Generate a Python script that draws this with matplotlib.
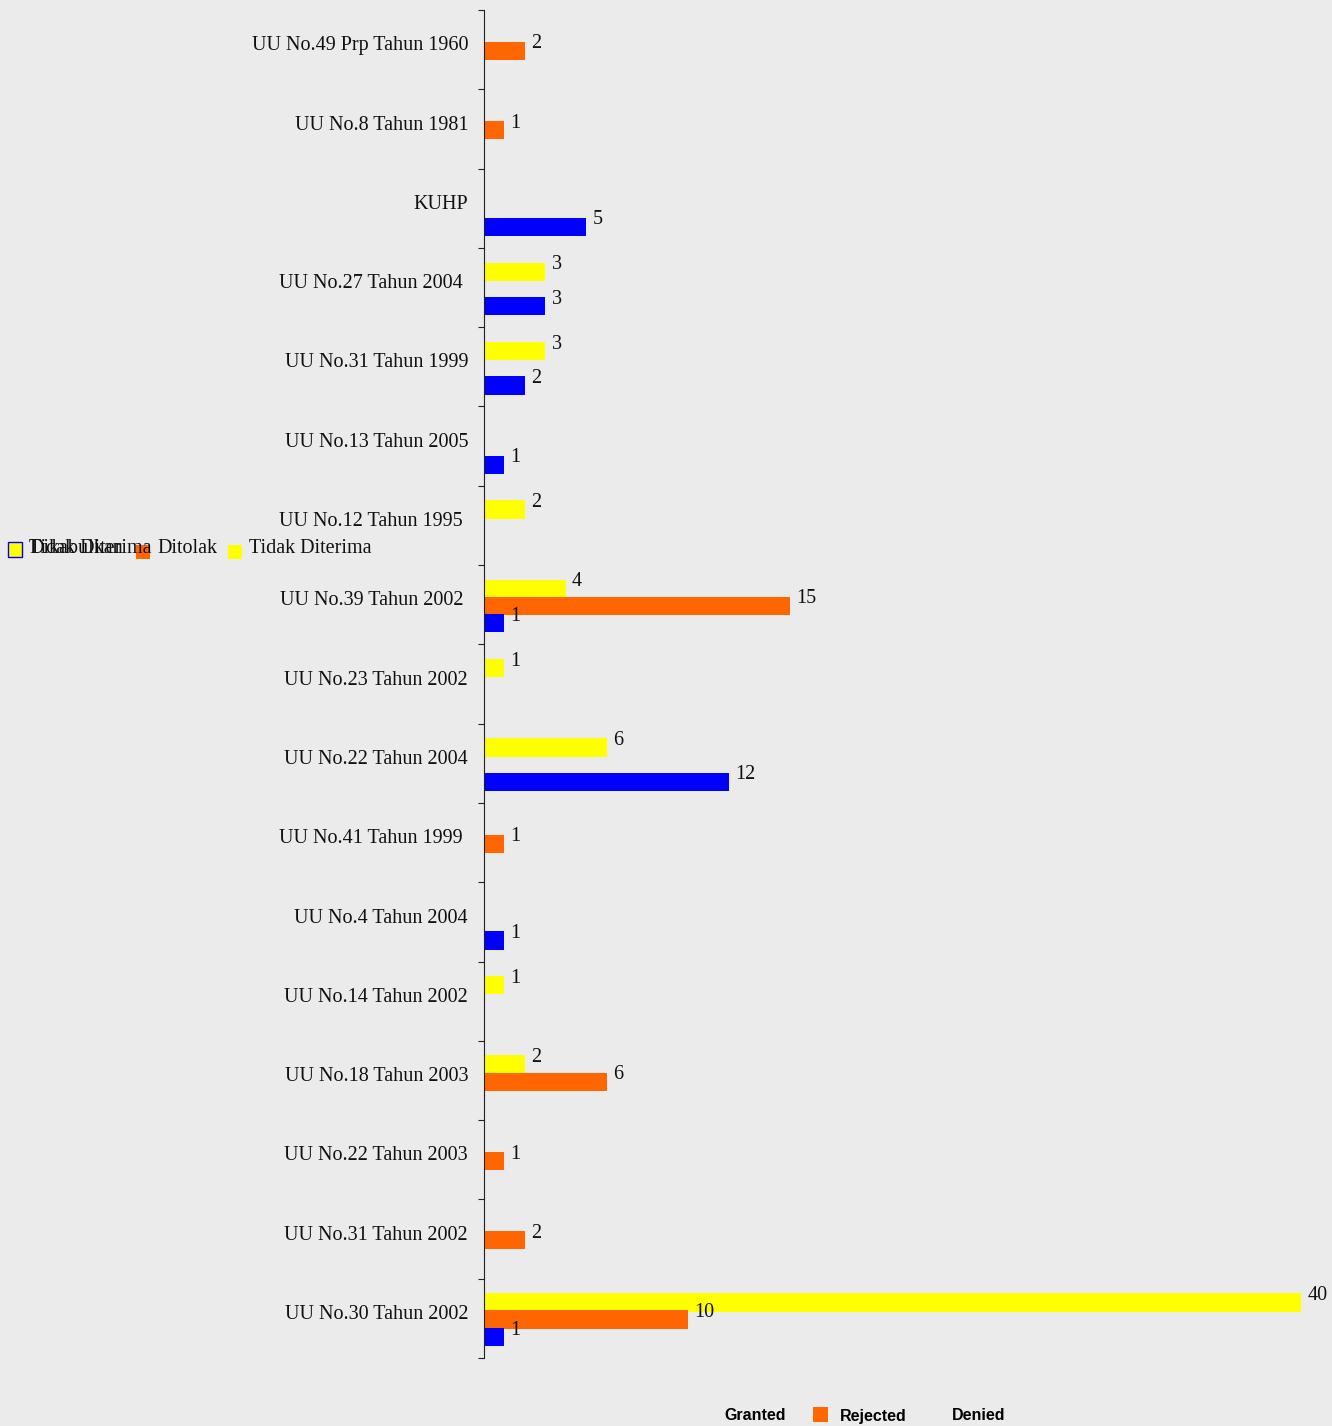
import numpy as np
import matplotlib
matplotlib.use("Agg")
import matplotlib.pyplot as plt
from matplotlib.patches import Rectangle

# categories, top to bottom (trailing spaces are in the source labels)
laws = ["UU No.49 Prp Tahun 1960", "UU No.8 Tahun 1981", "KUHP",
        "UU No.27 Tahun 2004 ", "UU No.31 Tahun 1999", "UU No.13 Tahun 2005",
        "UU No.12 Tahun 1995 ", "UU No.39 Tahun 2002 ", "UU No.23 Tahun 2002",
        "UU No.22 Tahun 2004", "UU No.41 Tahun 1999 ", "UU No.4 Tahun 2004",
        "UU No.14 Tahun 2002", "UU No.18 Tahun 2003", "UU No.22 Tahun 2003",
        "UU No.31 Tahun 2002", "UU No.30 Tahun 2002"]
dikabulkan = [0, 0, 5, 3, 2, 1, 0, 1, 0, 12, 0, 1, 0, 0, 0, 0, 1]
ditolak = [2, 1, 0, 0, 0, 0, 0, 15, 0, 0, 1, 0, 0, 6, 1, 2, 10]
tidak_diterima = [0, 0, 0, 3, 3, 0, 2, 4, 1, 6, 0, 0, 1, 2, 0, 0, 40]

BLUE, ORANGE, YELLOW = "#0000ff", "#ff6600", "#ffff00"
BG = "#ebebeb"
serif = ["Liberation Serif", "DejaVu Serif"]
FS = 14.5

fig = plt.figure(figsize=(13.32, 14.26), dpi=100, facecolor=BG)
ax = fig.add_axes([484 / 1332, 68 / 1426, 817 / 1332, 1348 / 1426])
ax.set_facecolor("none")

n = len(laws)
y = np.arange(n)
h = 0.23
series = [(tidak_diterima, YELLOW, -0.2), (ditolak, ORANGE, 0.015), (dikabulkan, BLUE, 0.235)]
for vals, col, off in series:
    vals = np.array(vals)
    m = vals > 0
    ax.barh(y[m] + off, vals[m], height=h, color=col, linewidth=0)
    for yy, v in zip(y[m] + off, vals[m]):
        ax.annotate(str(v), (v, yy), xytext=(4.5, 5), textcoords="offset points",
                    ha="left", va="center", fontsize=FS, family=serif, color="#111111")

ax.set_xlim(0, 40)
ax.set_ylim(n - 0.5, -0.5)
for s in ["top", "right", "bottom"]:
    ax.spines[s].set_visible(False)
ax.spines["left"].set_color("#222222")
ax.set_xticks([])

# boundary ticks (major) and category labels (minor)
ax.set_yticks(np.arange(n + 1) - 0.5)
ax.set_yticklabels([])
ax.tick_params(axis="y", which="major", length=4.5, direction="out", color="#222222")
ax.set_yticks(y - 0.08, minor=True)
ax.set_yticklabels(laws, minor=True, fontsize=FS, family=serif, color="#111111")
ax.tick_params(axis="y", which="minor", length=0, pad=11.5)

# broken top-left legend
ly = 1 - 549 / 1426
fig.patches.append(Rectangle((8 / 1332, ly - 8 / 1426), 14 / 1332, 15 / 1426,
                             transform=fig.transFigure, facecolor=YELLOW,
                             edgecolor=BLUE, linewidth=1))
fig.text(29 / 1332, ly, "Dikabulkan", fontsize=FS, family=serif, va="center", color="#111111")
fig.text(29 / 1332, ly, "Tidak Diterima", fontsize=FS, family=serif, va="center", color="#111111")
fig.patches.append(Rectangle((136 / 1332, ly - 10 / 1426), 14 / 1332, 14 / 1426,
                             transform=fig.transFigure, facecolor=ORANGE, linewidth=0))
fig.text(157 / 1332, ly, "Ditolak", fontsize=FS, family=serif, va="center", color="#111111")
fig.patches.append(Rectangle((228 / 1332, ly - 10 / 1426), 14 / 1332, 14 / 1426,
                             transform=fig.transFigure, facecolor=YELLOW, linewidth=0))
fig.text(249 / 1332, ly, "Tidak Diterima", fontsize=FS, family=serif, va="center", color="#111111")

# bottom english legend
by = 1 - 1416 / 1426
sans = ["Liberation Sans", "DejaVu Sans"]
fig.text(724 / 1332, by, "Granted", fontsize=11.5, weight="bold", family=sans, va="center")
fig.patches.append(Rectangle((813 / 1332, by - 6 / 1426), 15 / 1332, 15 / 1426,
                             transform=fig.transFigure, facecolor=ORANGE, linewidth=0))
fig.text(840 / 1332, by, "Rejected", fontsize=11.5, weight="bold", family=sans, va="center")
fig.text(952 / 1332, by, "Denied", fontsize=11.5, weight="bold", family=sans, va="center")

fig.savefig("out.png", dpi=100, facecolor=BG)
